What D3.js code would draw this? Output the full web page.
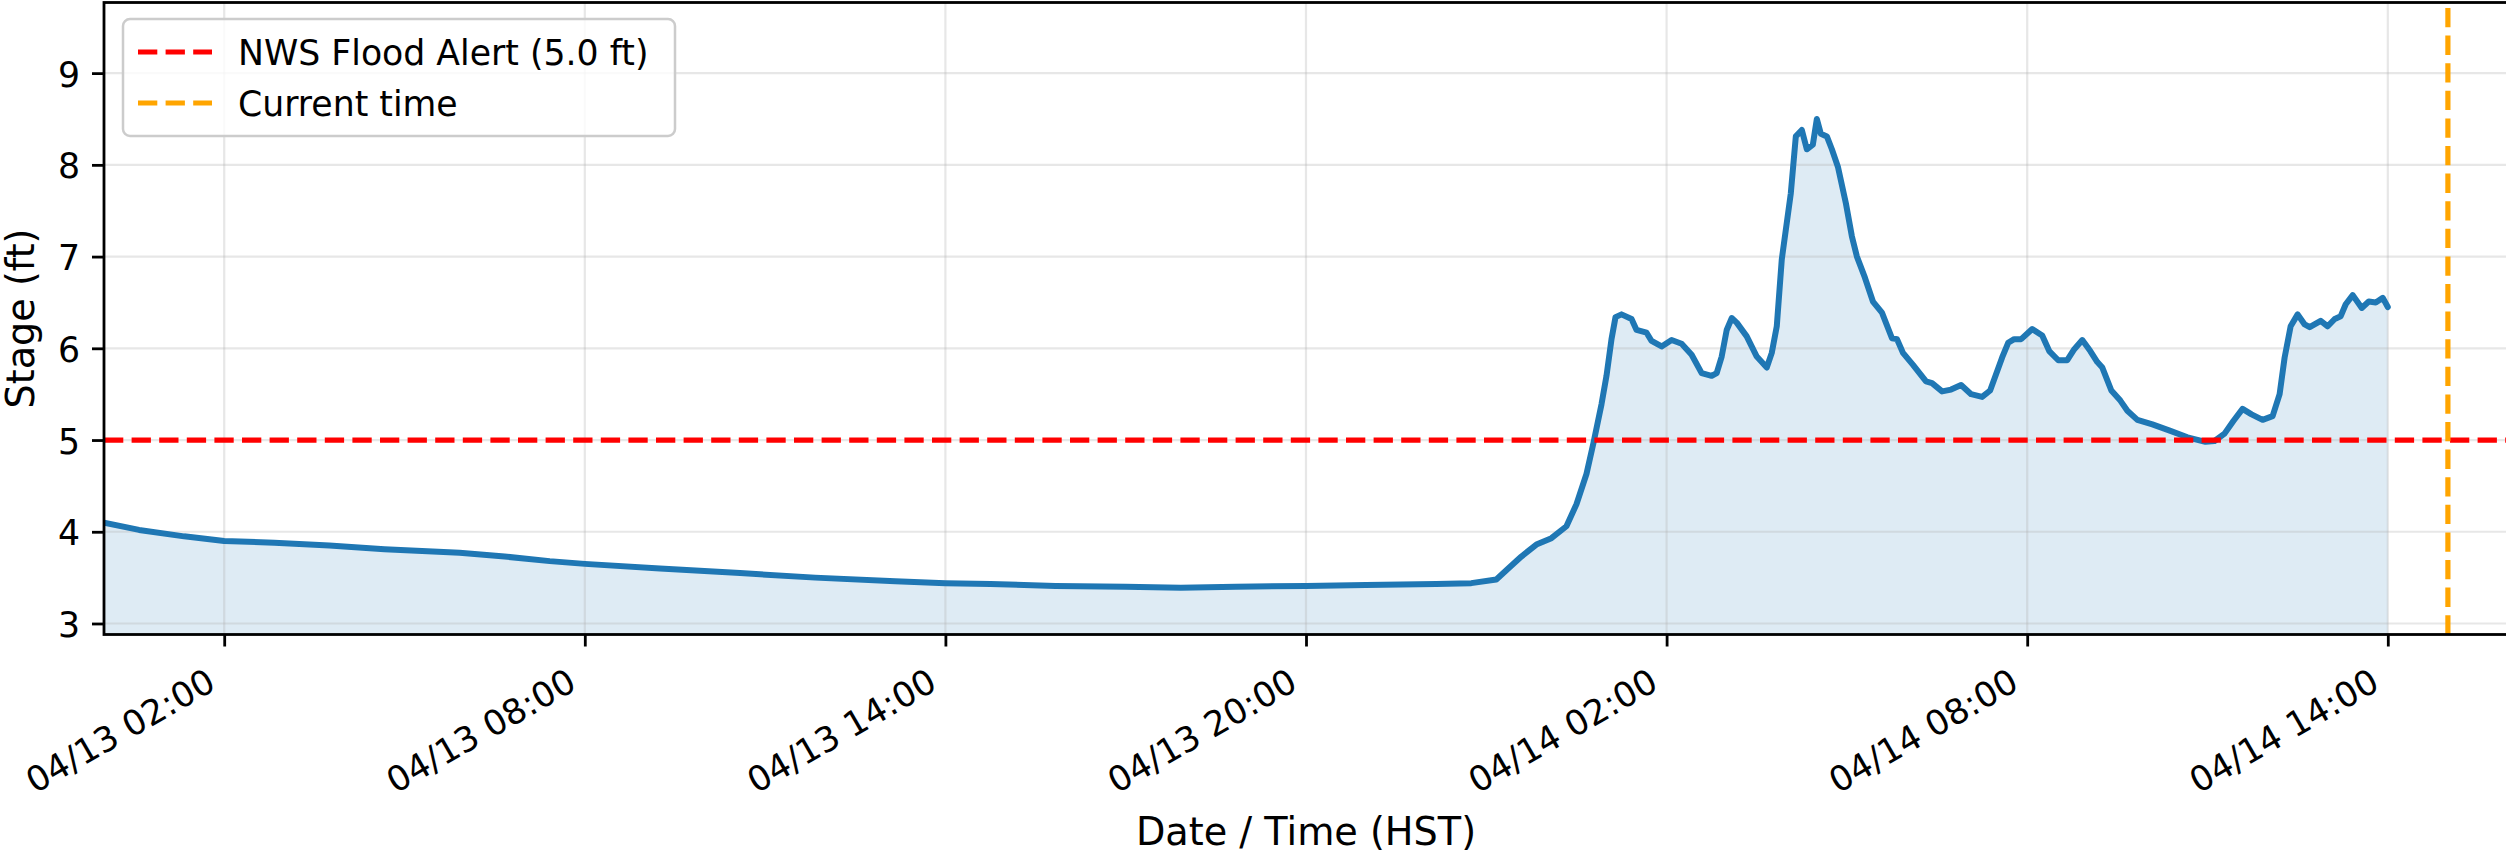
<!DOCTYPE html>
<html>
<head>
<meta charset="utf-8">
<script src="https://cdn.jsdelivr.net/npm/d3@7"></script>
<style>
  html, body { margin: 0; padding: 0; background: #ffffff; }
  svg { display: block; font-family: "DejaVu Sans", sans-serif; }
</style>
</head>
<body>
<svg id="chart" width="2506" height="854"></svg>
<script>
// ---------------- data ----------------
const timestamps = [
  "2024-04-13T00:00","2024-04-13T00:35","2024-04-13T01:20","2024-04-13T02:00","2024-04-13T02:50",
  "2024-04-13T03:45","2024-04-13T04:40","2024-04-13T05:55","2024-04-13T06:40","2024-04-13T07:25",
  "2024-04-13T08:00","2024-04-13T09:15","2024-04-13T10:35","2024-04-13T11:50","2024-04-13T13:10",
  "2024-04-13T14:00","2024-04-13T14:45","2024-04-13T15:50","2024-04-13T17:00","2024-04-13T17:55",
  "2024-04-13T18:50","2024-04-13T20:00","2024-04-13T21:00","2024-04-13T22:10","2024-04-13T22:45",
  "2024-04-13T23:10","2024-04-13T23:20","2024-04-13T23:35","2024-04-13T23:50","2024-04-14T00:05",
  "2024-04-14T00:20","2024-04-14T00:30","2024-04-14T00:40","2024-04-14T00:47","2024-04-14T00:55",
  "2024-04-14T01:00","2024-04-14T01:05","2024-04-14T01:09","2024-04-14T01:15","2024-04-14T01:25",
  "2024-04-14T01:30","2024-04-14T01:40","2024-04-14T01:45","2024-04-14T01:55","2024-04-14T02:05",
  "2024-04-14T02:15","2024-04-14T02:25","2024-04-14T02:35","2024-04-14T02:45","2024-04-14T02:50",
  "2024-04-14T02:55","2024-04-14T03:00","2024-04-14T03:05","2024-04-14T03:10","2024-04-14T03:20",
  "2024-04-14T03:30","2024-04-14T03:40","2024-04-14T03:45","2024-04-14T03:50","2024-04-14T03:55",
  "2024-04-14T04:04","2024-04-14T04:09","2024-04-14T04:15","2024-04-14T04:20","2024-04-14T04:26",
  "2024-04-14T04:30","2024-04-14T04:34","2024-04-14T04:40","2024-04-14T04:45","2024-04-14T04:51",
  "2024-04-14T04:59","2024-04-14T05:05","2024-04-14T05:10","2024-04-14T05:18","2024-04-14T05:26",
  "2024-04-14T05:35","2024-04-14T05:45","2024-04-14T05:50","2024-04-14T05:56","2024-04-14T06:06",
  "2024-04-14T06:19","2024-04-14T06:25","2024-04-14T06:35","2024-04-14T06:44","2024-04-14T06:54",
  "2024-04-14T07:04","2024-04-14T07:15","2024-04-14T07:23","2024-04-14T07:29","2024-04-14T07:35",
  "2024-04-14T07:41","2024-04-14T07:47","2024-04-14T07:54","2024-04-14T08:05","2024-04-14T08:15",
  "2024-04-14T08:22","2024-04-14T08:31","2024-04-14T08:40","2024-04-14T08:47","2024-04-14T08:55",
  "2024-04-14T09:03","2024-04-14T09:10","2024-04-14T09:15","2024-04-14T09:24","2024-04-14T09:33",
  "2024-04-14T09:40","2024-04-14T09:50","2024-04-14T10:05","2024-04-14T10:23","2024-04-14T10:40",
  "2024-04-14T10:58","2024-04-14T11:07","2024-04-14T11:17","2024-04-14T11:26","2024-04-14T11:35",
  "2024-04-14T11:44","2024-04-14T11:55","2024-04-14T12:05","2024-04-14T12:12","2024-04-14T12:17",
  "2024-04-14T12:23","2024-04-14T12:30","2024-04-14T12:37","2024-04-14T12:42","2024-04-14T12:53",
  "2024-04-14T13:00","2024-04-14T13:07","2024-04-14T13:13","2024-04-14T13:18","2024-04-14T13:25",
  "2024-04-14T13:34","2024-04-14T13:41","2024-04-14T13:48","2024-04-14T13:55","2024-04-14T14:00"
];
const stage = [
  4.10, 4.02, 3.95, 3.90, 3.88,
  3.85, 3.81, 3.77, 3.73, 3.68,
  3.65, 3.60, 3.55, 3.50, 3.46,
  3.44, 3.43, 3.41, 3.40, 3.39,
  3.40, 3.41, 3.42, 3.43, 3.44,
  3.48, 3.58, 3.73, 3.86, 3.93,
  4.06, 4.30, 4.63, 4.97, 5.39,
  5.70, 6.10, 6.34, 6.37, 6.32,
  6.20, 6.17, 6.08, 6.02, 6.09,
  6.05, 5.93, 5.73, 5.70, 5.73,
  5.91, 6.20, 6.33, 6.28, 6.13,
  5.91, 5.79, 5.95, 6.24, 6.97,
  7.69, 8.31, 8.38, 8.17, 8.22,
  8.50, 8.34, 8.31, 8.17, 7.98,
  7.58, 7.22, 7.00, 6.77, 6.51,
  6.39, 6.11, 6.10, 5.95, 5.82,
  5.64, 5.62, 5.53, 5.55, 5.60,
  5.50, 5.47, 5.54, 5.72, 5.90,
  6.06, 6.10, 6.10, 6.21, 6.14,
  5.97, 5.87, 5.87, 5.99, 6.09,
  5.97, 5.85, 5.79, 5.54, 5.43,
  5.32, 5.22, 5.17, 5.10, 5.03,
  4.98, 4.99, 5.07, 5.21, 5.34,
  5.28, 5.22, 5.26, 5.50, 5.90,
  6.24, 6.37, 6.26, 6.23, 6.30,
  6.24, 6.32, 6.35, 6.48, 6.58,
  6.44, 6.51, 6.50, 6.55, 6.45
];
const floodStage = 5.0;
const currentTime = "2024-04-14T15:00";
const xDomain = ["2024-04-13T00:00", "2024-04-14T16:00"];
const xTickValues = ["2024-04-13T02:00","2024-04-13T08:00","2024-04-13T14:00","2024-04-13T20:00",
                     "2024-04-14T02:00","2024-04-14T08:00","2024-04-14T14:00"];
const yTickValues = [3, 4, 5, 6, 7, 8, 9];
const yDomain = [2.88, 9.77];
const legendLabels = ["NWS Flood Alert (5.0 ft)", "Current time"];
const xAxisTitle = "Date / Time (HST)";
const yAxisTitle = "Stage (ft)";

// ---------------- drawing ----------------
const parse = d3.timeParse("%Y-%m-%dT%H:%M");
const data = timestamps.map((t, i) => ({ t: parse(t), v: stage[i] }));

const svg = d3.select("#chart");
const W = 2506, H = 854;
const plot = { left: 104, right: 2508, top: 2.5, bottom: 634.5 };

svg.append("rect").attr("width", W).attr("height", H).attr("fill", "#ffffff");

const x = d3.scaleTime().domain(xDomain.map(parse)).range([plot.left, plot.right]);
const y = d3.scaleLinear().domain(yDomain).range([plot.bottom, plot.top]);

const defs = svg.append("defs");
defs.append("clipPath").attr("id", "clip")
  .append("rect").attr("x", plot.left).attr("y", plot.top)
  .attr("width", plot.right - plot.left).attr("height", plot.bottom - plot.top);

const g = svg.append("g").attr("clip-path", "url(#clip)");

// fill under the series
const area = d3.area().x(d => x(d.t)).y0(y(yDomain[0])).y1(d => y(d.v));
g.append("path").datum(data).attr("d", area)
  .attr("fill", "#1f77b4").attr("fill-opacity", 0.15);

// grid
const gridColor = "#b0b0b0";
g.selectAll(".vgrid").data(xTickValues.map(parse)).enter().append("line")
  .attr("x1", d => x(d)).attr("x2", d => x(d))
  .attr("y1", plot.top).attr("y2", plot.bottom)
  .attr("stroke", gridColor).attr("stroke-opacity", 0.3).attr("stroke-width", 2.2);
g.selectAll(".hgrid").data(yTickValues).enter().append("line")
  .attr("x1", plot.left).attr("x2", plot.right)
  .attr("y1", d => y(d)).attr("y2", d => y(d))
  .attr("stroke", gridColor).attr("stroke-opacity", 0.3).attr("stroke-width", 2.2);

// series line
const line = d3.line().x(d => x(d.t)).y(d => y(d.v));
g.append("path").datum(data).attr("d", line)
  .attr("fill", "none").attr("stroke", "#1f77b4").attr("stroke-width", 6)
  .attr("stroke-linejoin", "round").attr("stroke-linecap", "round");

// flood alert line
const dash = "19.3,8.3";
g.append("line")
  .attr("x1", plot.left).attr("x2", plot.right)
  .attr("y1", y(floodStage)).attr("y2", y(floodStage))
  .attr("stroke", "#ff0000").attr("stroke-width", 5.2).attr("stroke-dasharray", dash);

// current time line
const ct = parse(currentTime);
g.append("line")
  .attr("x1", x(ct)).attr("x2", x(ct))
  .attr("y1", plot.bottom).attr("y2", plot.top)
  .attr("stroke", "#ffa500").attr("stroke-width", 5.2).attr("stroke-dasharray", dash);

// axes
const fs = 34.7;
const xAxis = d3.axisBottom(x)
  .tickValues(xTickValues.map(parse))
  .tickFormat(d3.timeFormat("%m/%d %H:%M"))
  .tickSize(12).tickPadding(12);
const gx = svg.append("g").attr("transform", `translate(0,${plot.bottom})`).call(xAxis);
gx.select(".domain").remove();
gx.selectAll(".tick line").attr("stroke", "#000").attr("stroke-width", 2.8);
gx.selectAll(".tick text")
  .attr("x", null).attr("y", null).attr("dy", null)
  .attr("text-anchor", "end")
  .attr("transform", "translate(-7,54) rotate(-30)")
  .attr("fill", "#000")
  .style("font-size", fs + "px").style("font-family", "DejaVu Sans");

const yAxis = d3.axisLeft(y).tickValues(yTickValues).tickFormat(d3.format("d"))
  .tickSize(12).tickPadding(12);
const gy = svg.append("g").attr("transform", `translate(${plot.left},0)`).call(yAxis);
gy.select(".domain").remove();
gy.selectAll(".tick line").attr("stroke", "#000").attr("stroke-width", 2.8);
gy.selectAll(".tick text")
  .attr("dy", null).attr("y", 13)
  .attr("fill", "#000")
  .style("font-size", fs + "px").style("font-family", "DejaVu Sans");

// spines
svg.append("rect")
  .attr("x", plot.left).attr("y", plot.top)
  .attr("width", plot.right - plot.left).attr("height", plot.bottom - plot.top)
  .attr("fill", "none").attr("stroke", "#000").attr("stroke-width", 2.8);

// axis titles
svg.append("text")
  .attr("x", (plot.left + plot.right) / 2).attr("y", 845)
  .attr("text-anchor", "middle").attr("fill", "#000")
  .style("font-size", "38.2px").text(xAxisTitle);
svg.append("text")
  .attr("transform", `translate(34,${(plot.top + plot.bottom) / 2}) rotate(-90)`)
  .attr("text-anchor", "middle").attr("fill", "#000")
  .style("font-size", "38.2px").text(yAxisTitle);

// legend
const leg = svg.append("g");
leg.append("rect")
  .attr("x", 123).attr("y", 19).attr("width", 552).attr("height", 117)
  .attr("rx", 7).attr("ry", 7)
  .attr("fill", "#ffffff").attr("fill-opacity", 0.8)
  .attr("stroke", "#cccccc").attr("stroke-width", 2.5);
const legendColors = ["#ff0000", "#ffa500"];
const legendRows = [52, 103];
legendLabels.forEach((lab, i) => {
  leg.append("line")
    .attr("x1", 138).attr("x2", 212)
    .attr("y1", legendRows[i]).attr("y2", legendRows[i])
    .attr("stroke", legendColors[i]).attr("stroke-width", 5.2)
    .attr("stroke-dasharray", dash);
  leg.append("text")
    .attr("x", 238).attr("y", legendRows[i] + 12.5)
    .attr("fill", "#000").style("font-size", fs + "px").text(lab);
});
</script>
</body>
</html>
